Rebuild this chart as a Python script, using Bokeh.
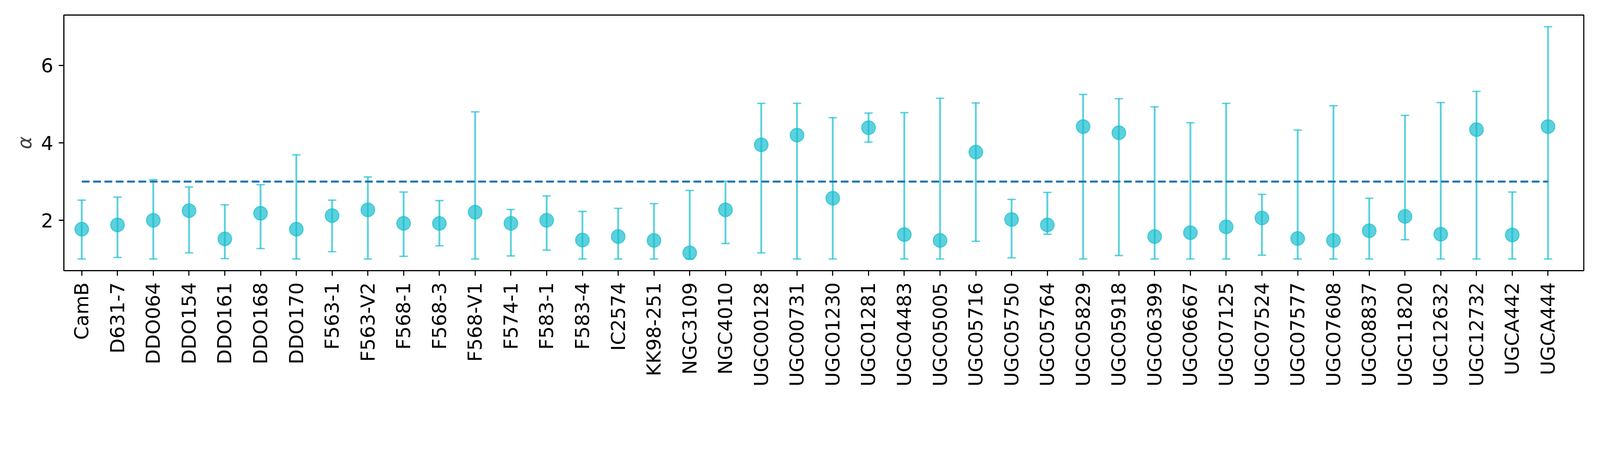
import math
from bokeh.plotting import figure
from bokeh.models import Range1d, FixedTicker
from bokeh.embed import file_html
from bokeh.resources import INLINE

# ---- data ----
galaxies = ["CamB", "D631-7", "DDO064", "DDO154", "DDO161", "DDO168", "DDO170",
            "F563-1", "F563-V2", "F568-1", "F568-3", "F568-V1", "F574-1", "F583-1",
            "F583-4", "IC2574", "KK98-251", "NGC3109", "NGC4010", "UGC00128",
            "UGC00731", "UGC01230", "UGC01281", "UGC04483", "UGC05005", "UGC05716",
            "UGC05750", "UGC05764", "UGC05829", "UGC05918", "UGC06399", "UGC06667",
            "UGC07125", "UGC07524", "UGC07577", "UGC07608", "UGC08837", "UGC11820",
            "UGC12632", "UGC12732", "UGCA442", "UGCA444"]

alpha_best = [1.77, 1.88, 2.00, 2.25, 1.52, 2.18, 1.77,
              2.12, 2.27, 1.92, 1.92, 2.21, 1.92, 2.00,
              1.49, 1.58, 1.48, 1.16, 2.27, 3.95,
              4.20, 2.57, 4.39, 1.63, 1.48, 3.76,
              2.02, 1.88, 4.42, 4.26, 1.58, 1.68,
              1.83, 2.06, 1.53, 1.48, 1.73, 2.10,
              1.64, 4.34, 1.62, 4.42]

alpha_low = [1.00, 1.04, 1.00, 1.16, 1.01, 1.27, 1.00,
             1.19, 1.00, 1.07, 1.34, 1.00, 1.08, 1.23,
             1.00, 1.00, 1.00, 1.00, 1.40, 1.16,
             1.00, 1.00, 4.02, 1.00, 1.00, 1.46,
             1.03, 1.64, 1.00, 1.09, 1.00, 1.00,
             1.00, 1.10, 1.00, 1.00, 1.00, 1.50,
             1.00, 1.00, 1.00, 1.00]

alpha_high = [2.52, 2.60, 3.05, 2.86, 2.40, 2.92, 3.69,
              2.52, 3.12, 2.73, 2.51, 4.80, 2.28, 2.63,
              2.23, 2.31, 2.43, 2.77, 3.01, 5.02,
              5.02, 4.65, 4.77, 4.78, 5.15, 5.03,
              2.54, 2.72, 5.25, 5.14, 4.93, 4.52,
              5.02, 2.67, 4.33, 4.96, 2.57, 4.71,
              5.04, 5.33, 2.73, 7.00]

reference_alpha = 3.0

FONT = "DejaVu Sans"
CYAN = "#17becf"
BLUE = "#1f77b4"

# the page is photographed with a zoom of about 1.173, so every pixel size is divided by it
S = 1 / 1.173

def px(v):
    return round(v * S, 2)

W, H = 4070, 1010
x = list(range(len(galaxies)))

p = figure(width=W, height=H, output_backend="svg", toolbar_location=None,
           x_range=Range1d(-0.5, len(galaxies)), y_range=Range1d(0.7, 7.3),
           min_border_left=int(round(191 * S)), min_border_top=int(round(45 * S)))
p.min_border_right = W - int(round(4755.5 * S))
p.min_border_bottom = H - int(round(811.6 * S))

p.background_fill_color = "white"
p.border_fill_color = "white"
p.outline_line_color = "black"
p.outline_line_width = px(3.3)
p.xgrid.visible = False
p.ygrid.visible = False

# error bars
p.segment(x0=x, y0=alpha_low, x1=x, y1=alpha_high, line_color=CYAN,
          line_alpha=0.7, line_width=px(5.5))
p.dash(x=x, y=alpha_low, size=px(25), line_color=CYAN, line_alpha=0.7, line_width=px(4.2))
p.dash(x=x, y=alpha_high, size=px(25), line_color=CYAN, line_alpha=0.7, line_width=px(4.2))

# markers
p.scatter(x=x, y=alpha_best, size=px(41), marker="circle", fill_color=CYAN,
          fill_alpha=0.7, line_color=CYAN, line_alpha=0.7, line_width=px(3))

# reference line
p.line(x=[x[0], x[-1]], y=[reference_alpha, reference_alpha], line_color=BLUE,
       line_width=px(6.2), line_dash="20 9")

# axes
for ax in (p.xaxis[0], p.yaxis[0]):
    ax.axis_line_color = "black"
    ax.axis_line_width = px(3.3)
    ax.major_tick_line_color = "black"
    ax.major_tick_line_width = px(3.3)
    ax.major_tick_out = int(round(15 * S))
    ax.major_tick_in = 0
    ax.minor_tick_line_color = None
    ax.major_label_text_font = FONT
    ax.major_label_text_font_size = f"{px(58)}px"
    ax.major_label_text_color = "black"

p.xaxis.ticker = FixedTicker(ticks=x)
p.xaxis.major_label_overrides = {i: name for i, name in enumerate(galaxies)}
p.xaxis.major_label_orientation = math.pi / 2
p.xaxis.major_label_standoff = int(round(20 * S))

p.yaxis.ticker = FixedTicker(ticks=[2, 4, 6])
p.yaxis.major_label_standoff = int(round(17 * S))
p.yaxis.axis_label = "α"
p.yaxis.axis_label_text_font = FONT
p.yaxis.axis_label_text_font_style = "italic"
p.yaxis.axis_label_text_font_size = f"{px(58)}px"
p.yaxis.axis_label_standoff = int(round(12 * S))

open("out.html", "w").write(file_html(p, INLINE))
